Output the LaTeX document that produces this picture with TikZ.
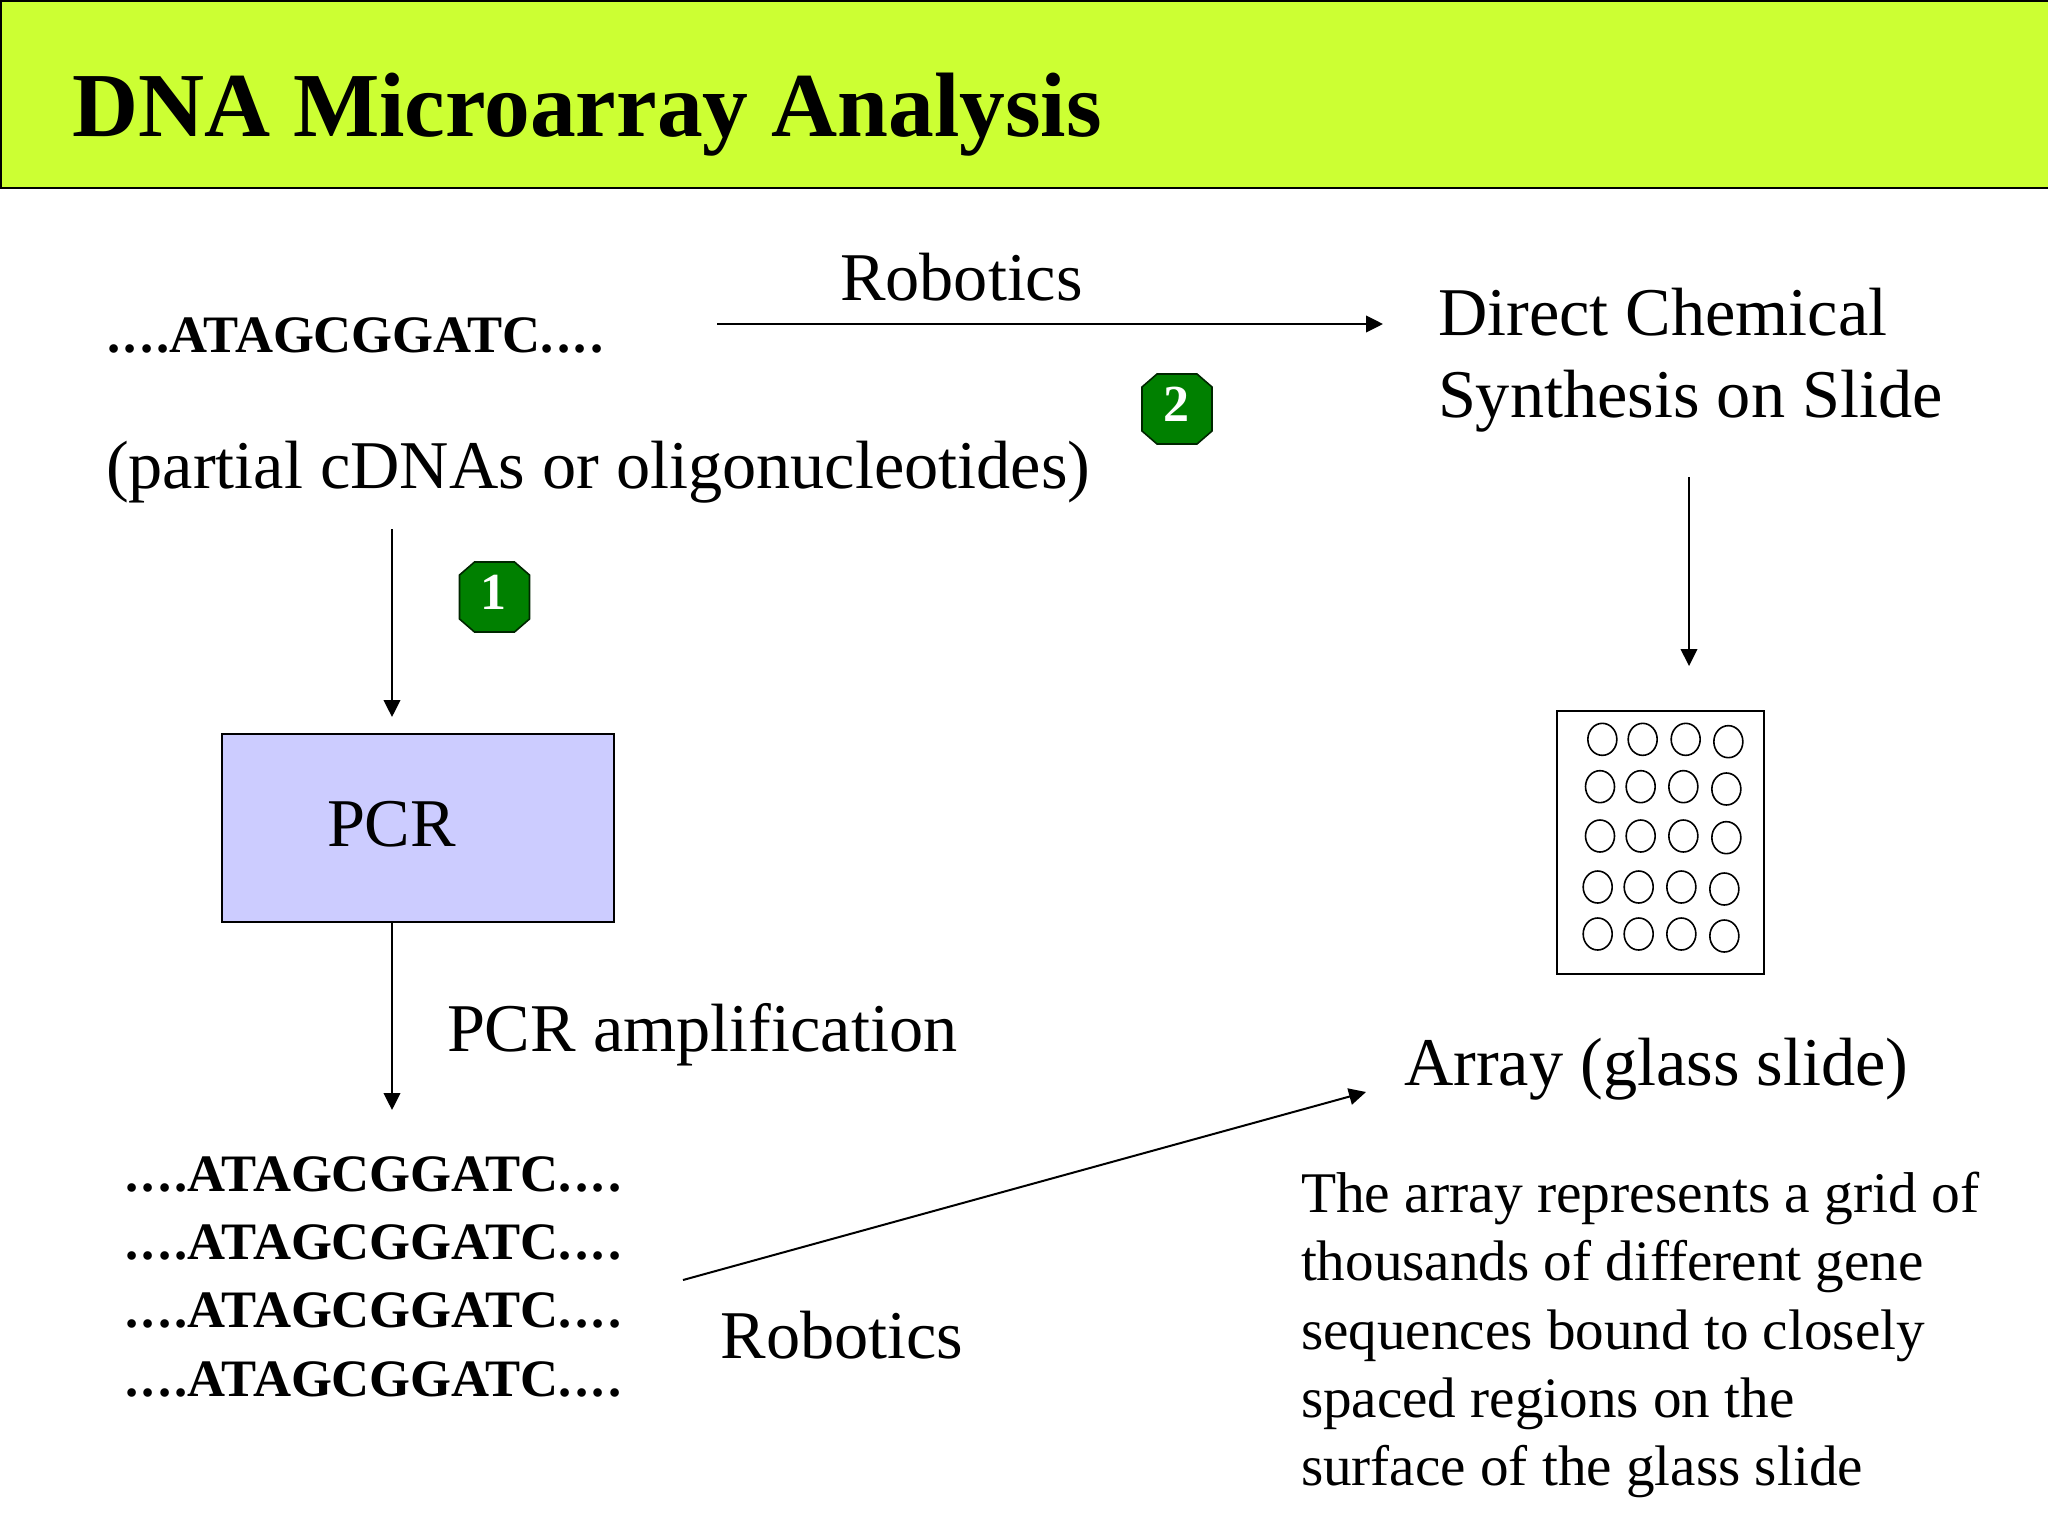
\documentclass[tikz,border=0pt]{standalone}
\usepackage{fontspec}
\setmainfont{Liberation Serif}
\usetikzlibrary{arrows.meta}
\definecolor{headbg}{HTML}{CCFF33}
\definecolor{pcrbg}{HTML}{CCCCFF}
\definecolor{badgebg}{HTML}{008000}
\newcommand{\seqdots}{.\kern1.7pt.\kern1.7pt.\kern1.7pt.}
\newcommand{\seqtext}{\seqdots ATAGCGGATC\seqdots}
\newcommand{\octagon}[1]{\draw[octo,shift={(#1)}] (-35,-22)--(-20,-35)--(20,-35)--(35,-22)--(35,22)--(20,35)--(-20,35)--(-35,22)--cycle;}
\tikzset{
  x=0.5pt,y=-0.5pt,
  txt/.style={anchor=base west,inner sep=0pt,outer sep=0pt,font=\fontsize{34.15}{40}\selectfont},
  small/.style={txt,font=\fontsize{28.58}{34}\selectfont},
  seq/.style={txt,font=\fontsize{26.3}{34}\selectfont\bfseries},
  flow/.style={draw=black,line width=1pt,-{Triangle[length=8.5pt,width=8.3pt]}},
  octo/.style={draw=black!70!badgebg,line width=0.8pt,fill=badgebg},
  digit/.style={anchor=center,inner sep=0pt,text=white,font=\fontsize{26}{30}\selectfont\bfseries},
  spot/.style={draw=black,line width=0.8pt},
}
\begin{document}
\begin{tikzpicture}
\useasboundingbox (0,0) rectangle (2048,1536);
\fill[white] (0,0) rectangle (2048,1536);
\node[draw=black,line width=1pt,fill=headbg,anchor=north west,minimum width=1024pt,minimum height=93.5pt,inner sep=0pt] (head) at (0,0) {};
\node[txt,font=\fontsize{45.75}{50}\selectfont\bfseries] (title) at (72,136) {DNA Microarray Analysis};

\node[seq] (seqa) at (107,352.5) {\seqtext};
\node[txt] (partial) at (106,488.5) {(partial cDNAs or oligonucleotides)};
\node[txt] (robota) at (840,300.5) {Robotics};
\node[txt] (directa) at (1438,335.5) {Direct Chemical};
\node[txt] (directb) at (1438,417.5) {Synthesis on Slide};

\octagon{494.5,597}
\node[digit] (onedigit) at (493,592) {1};
\octagon{1177,409}
\node[digit] (twodigit) at (1176,404) {2};

\node[draw=black,line width=1pt,fill=pcrbg,anchor=north west,minimum width=196pt,minimum height=94pt,inner sep=0pt] (pcr) at (220.5,733) {};
\node[txt] (pcrtext) at (327,846.5) {PCR};
\node[txt] (amp) at (447,1051.5) {PCR amplification};

\node[seq] (seqb) at (125,1191.5) {\seqtext};
\node[seq] (seqc) at (125,1259.5) {\seqtext};
\node[seq] (seqd) at (125,1327.5) {\seqtext};
\node[seq] (seqe) at (125,1396.5) {\seqtext};
\node[txt] (robotb) at (720.5,1358.5) {Robotics};

\node[txt] (array) at (1404,1085.5) {Array (glass slide)};
\node[small,font=\fontsize{28.75}{34}\selectfont] (para) at (1301,1212) {The array represents a grid of};
\node[small] (parb) at (1301,1280) {thousands of different gene};
\node[small] (parc) at (1301,1349) {sequences bound to closely};
\node[small] (pard) at (1301,1417) {spaced regions on the};
\node[small] (pare) at (1301,1485) {surface of the glass slide};

\node[draw=black,line width=1pt,fill=white,anchor=north west,minimum width=103.5pt,minimum height=131.5pt,inner sep=0pt] (slide) at (1555.5,710) {};
\foreach \zx/\zy in {307/178,428/178,557/178,685/185,
                     300/320,422/320,550/320,679/327,
                     300/468,422/468,550/468,679/473,
                     293/621,416/621,544/621,673/627,
                     293/762,416/762,544/762,673/768}{
  \draw[spot] ({1500+\zx/3},{680+\zy/3}) ellipse [x radius=14.5,y radius=16];
}
\coordinate (a1s) at (717,324);
\coordinate (a1e) at (1383,324);
\coordinate (a2s) at (392,529);
\coordinate (a2e) at (392,717);
\coordinate (a3s) at (392,922);
\coordinate (a3e) at (392,1110);
\coordinate (a4s) at (683,1280);
\coordinate (a4e) at (1366,1092);
\coordinate (a5s) at (1689,477);
\coordinate (a5e) at (1689,666);
\draw[flow] (a1s) -- (a1e);
\draw[flow] (a2s) -- (a2e);
\draw[flow] (a3s) -- (a3e);
\draw[flow] (a4s) -- (a4e);
\draw[flow] (a5s) -- (a5e);
\end{tikzpicture}
\end{document}
